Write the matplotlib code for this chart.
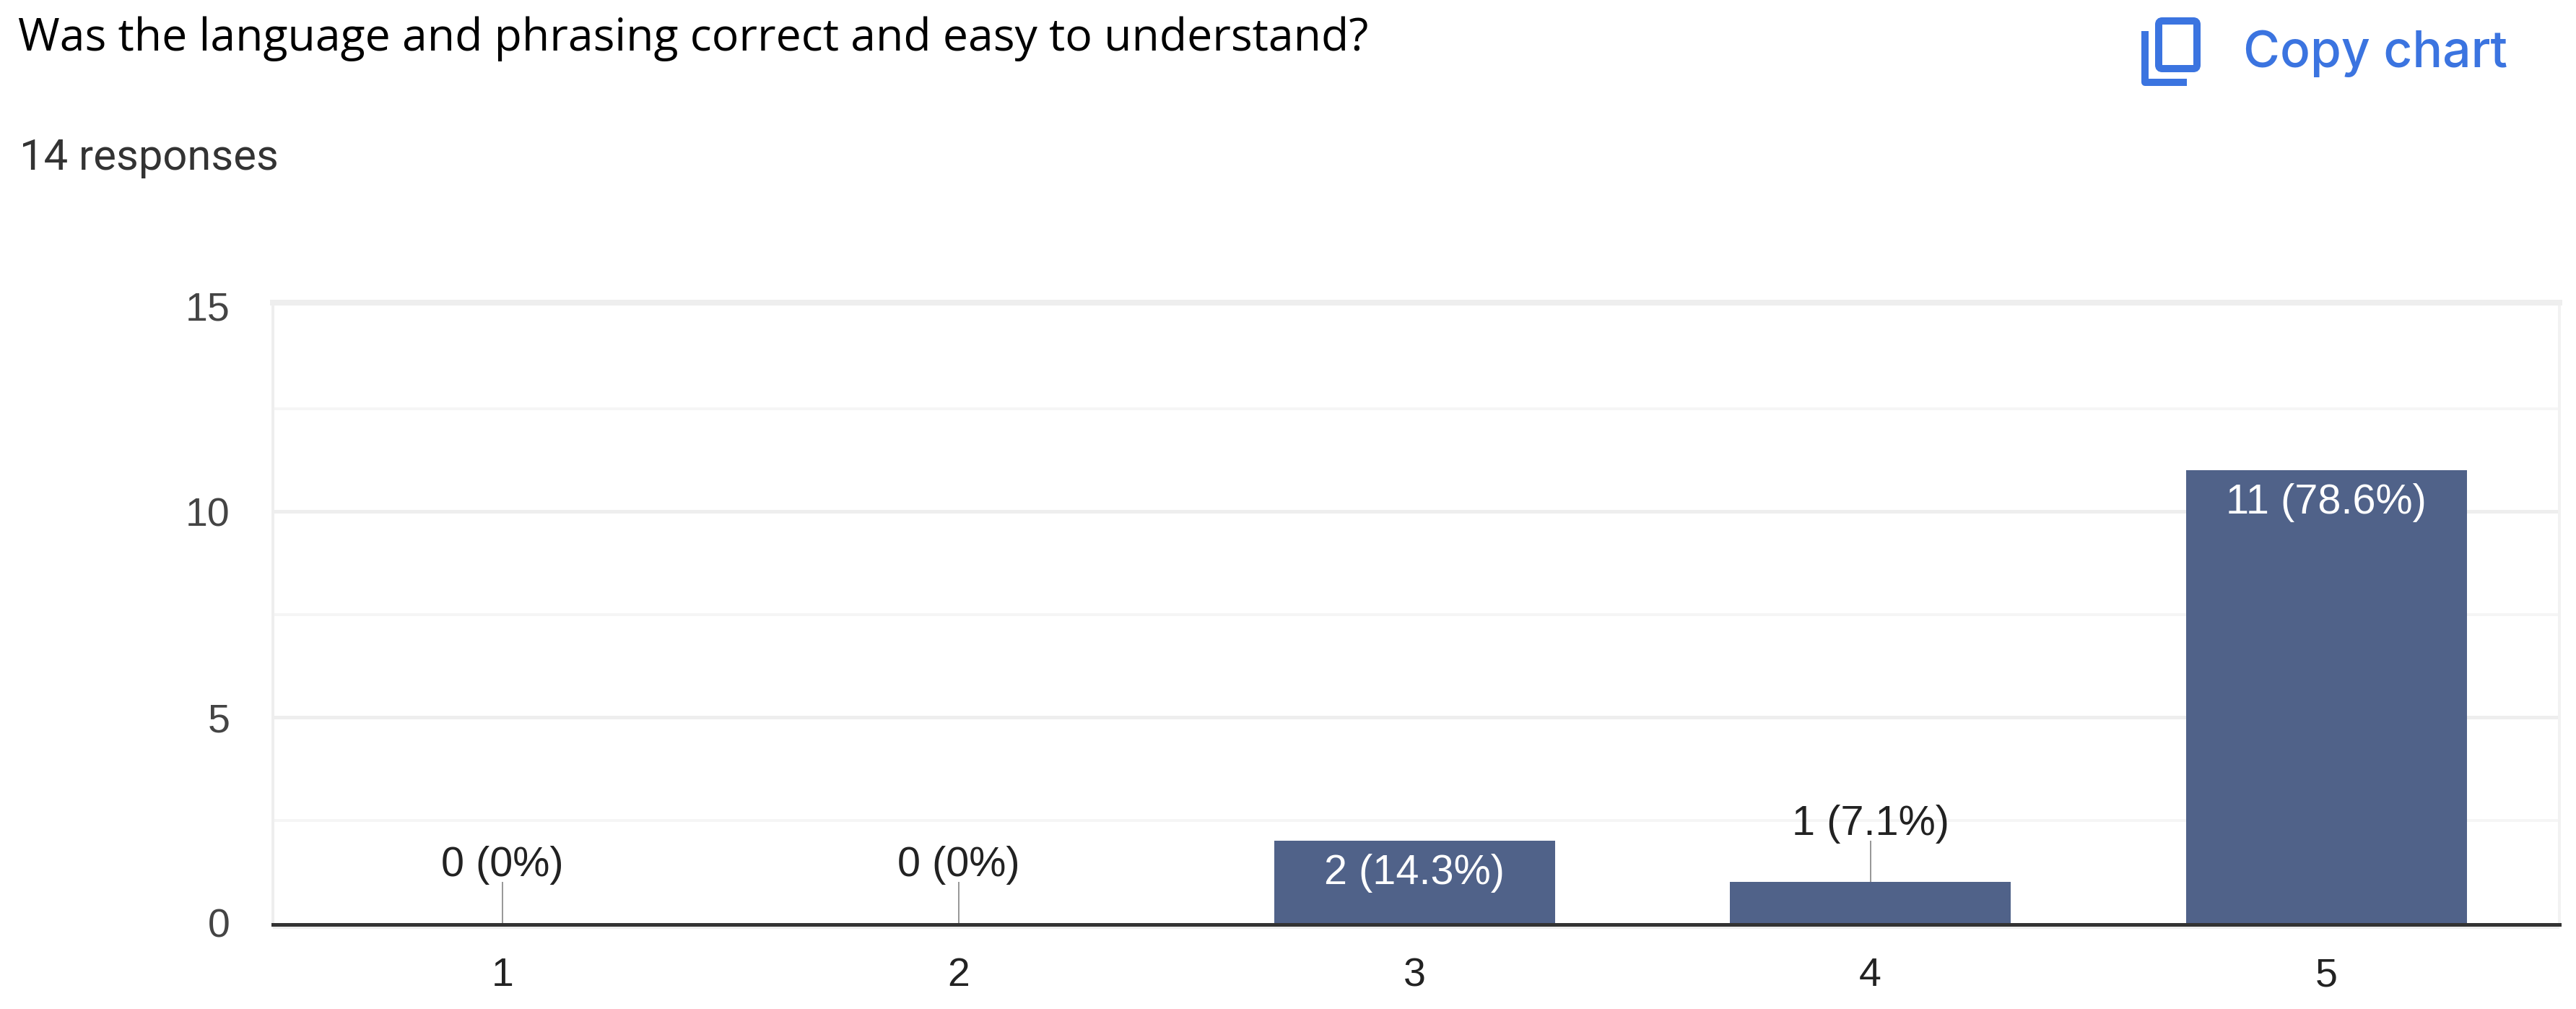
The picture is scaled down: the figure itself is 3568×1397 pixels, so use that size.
import matplotlib
matplotlib.use("Agg")
import matplotlib.pyplot as plt
from matplotlib.patches import FancyBboxPatch, PathPatch
from matplotlib.path import Path

categories = ["1", "2", "3", "4", "5"]
counts = [0, 0, 2, 1, 11]
labels = ["0 (0%)", "0 (0%)", "2 (14.3%)", "1 (7.1%)", "11 (78.6%)"]
inside = [False, False, True, False, True]
yticks = [0, 5, 10, 15]
yminor = [2.5, 7.5, 12.5]
title = "Was the language and phrasing correct and easy to understand?"
subtitle = "14 responses"
button = "Copy chart"

W, H = 3568, 1397
BAR = "#506289"
BLUE = "#3b74e0"
PT = 72 / 100  # points per pixel at dpi 100

fig = plt.figure(figsize=(W / 100, H / 100), dpi=100, facecolor="white")
L, R, T, B = 378, 3545, 423, 1278
ax = fig.add_axes([L / W, 1 - B / H, (R - L) / W, (B - T) / H])
ax.set_xlim(0.4964, 5.5114)
ax.set_ylim(0, 15)
xs = list(range(1, len(categories) + 1))
ax.set_axisbelow(True)

ax.bar(xs, counts, width=0.616, color=BAR, linewidth=0, zorder=3)

for y in yticks[1:-1]:
    ax.axhline(y, color="#eeeeee", lw=5 * PT, zorder=1)
for y in yminor:
    ax.axhline(y, color="#f5f5f5", lw=4 * PT, zorder=1)

for name in ("left", "right"):
    ax.spines[name].set_color("#eeeeee")
    ax.spines[name].set_linewidth(4 * PT)
ax.spines["right"].set_color("#f2f2f2")
ax.spines["top"].set_color("#eeeeee")
ax.spines["top"].set_linewidth(8 * PT)
ax.spines["top"].set_position(("outward", 4 * PT))
ax.spines["bottom"].set_color("#333333")
ax.spines["bottom"].set_linewidth(5 * PT)
ax.spines["bottom"].set_position(("outward", 1.5 * PT))
ax.spines["bottom"].set_zorder(6)

ax.set_xticks(xs, categories)
ax.set_yticks(yticks)
ax.tick_params(axis="both", length=0, labelsize=40, labelfontfamily="Liberation Sans")
ax.tick_params(axis="x", colors="#222222", pad=33)
ax.tick_params(axis="y", colors="#444444", pad=43)

for x, c, lab, ins in zip(xs, counts, labels, inside):
    if ins:
        ax.annotate(lab, (x, c), xytext=(0, -60 * PT), textcoords="offset points",
                    ha="center", va="baseline", color="white", fontsize=41.5,
                    family="Liberation Sans", zorder=5)
    else:
        ax.plot([x, x], [c, c + 1], color="#999999", lw=2 * PT, zorder=3, solid_capstyle="butt")
        ax.annotate(lab, (x, c + 1), xytext=(0, 8 * PT), textcoords="offset points",
                    ha="center", va="baseline", color="#222222", fontsize=41.5,
                    family="Liberation Sans", zorder=5)

# Page furniture in pixel coordinates
ov = fig.add_axes([0, 0, 1, 1], facecolor="none", zorder=-1)
ov.set_xlim(0, W)
ov.set_ylim(H, 0)
ov.axis("off")
ov.plot([L, R], [1284, 1284], color="#eeeeee", lw=4 * PT, solid_capstyle="butt")
ov.text(25, 70, title, fontsize=45, family="Open Sans", color="#000000", va="baseline")
ov.text(27, 235, subtitle, fontsize=43, family="Roboto", color="#333333", va="baseline")
ov.text(3107, 93, button, fontsize=50, family="Inter", weight=500, color=BLUE, va="baseline")

ov.add_patch(FancyBboxPatch((2990, 29), 53, 66, boxstyle="round,pad=0,rounding_size=5",
                            fc="none", ec=BLUE, lw=10 * PT))
ov.add_patch(PathPatch(Path([(2971, 43), (2971, 114), (3029, 114)]),
                       fc="none", ec=BLUE, lw=10 * PT, capstyle="butt", joinstyle="round"))

fig.savefig("out.png", dpi=100, facecolor="white")
